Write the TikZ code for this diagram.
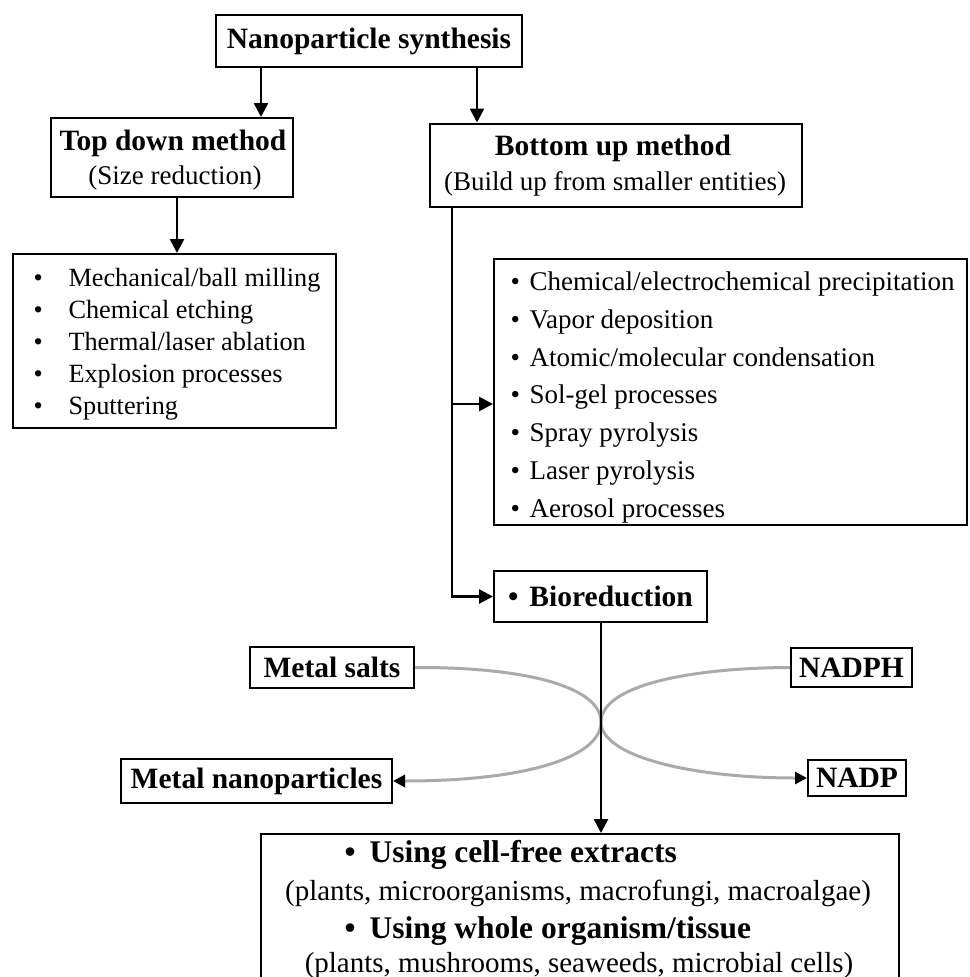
\documentclass[tikz,border=0pt]{standalone}
\usepackage{fontspec}
\setmainfont{Liberation Serif}
\usetikzlibrary{arrows.meta}
\definecolor{flowgray}{RGB}{170,170,170}
\begin{document}
\begin{tikzpicture}[x=1pt,y=-1pt,
  box/.style={draw=black, line width=2pt, inner sep=0pt, rectangle},
  bl/.style={font=\fontsize{29.5}{34}\selectfont\bfseries},
  blb/.style={font=\fontsize{31.5}{36}\selectfont\bfseries},
  rg/.style={font=\fontsize{27}{32}\selectfont},
  rgs/.style={font=\fontsize{26.3}{32}\selectfont},
  rgb/.style={font=\fontsize{29}{34}\selectfont},
  arr/.style={line width=2.6pt, -{Triangle[length=14pt,width=14pt]}},
  flow/.style={line width=3pt, draw=flowgray, -{Triangle[length=12pt,width=12pt,color=black]}}
]
\useasboundingbox (0,0) rectangle (969,977);
\clip (0,0) rectangle (969,977);

% boxes
\node[box, minimum width=306pt, minimum height=52pt, bl] (ns) at (369,41) {Nanoparticle synthesis};

\node[box, minimum width=242pt, minimum height=79pt] (td) at (172,157.5) {};
\node[bl, anchor=base] (tdt1) at (173,150) {Top down method};
\node[rg, anchor=base] (tdt2) at (175,184) {(Size reduction)};

\node[box, minimum width=372pt, minimum height=83pt] (bu) at (616,165) {};
\node[bl, anchor=base] (but1) at (613,155) {Bottom up method};
\node[rg, anchor=base] (but2) at (615,190) {(Build up from smaller entities)};

\node[box, minimum width=323pt, minimum height=174pt] (tdl) at (174.5,341) {};
\node[rgs, anchor=base west] (l1) at (30,286) {\makebox[35pt][l]{\textbullet}Mechanical/ball milling};
\node[rgs, anchor=base west] (l2) at (30,318) {\makebox[35pt][l]{\textbullet}Chemical etching};
\node[rgs, anchor=base west] (l3) at (30,350) {\makebox[35pt][l]{\textbullet}Thermal/laser ablation};
\node[rgs, anchor=base west] (l4) at (30,382) {\makebox[35pt][l]{\textbullet}Explosion processes};
\node[rgs, anchor=base west] (l5) at (30,414) {\makebox[35pt][l]{\textbullet}Sputtering};

\node[box, minimum width=473pt, minimum height=266pt] (bul) at (730.5,392) {};
\node[rg, anchor=base west] (r1) at (507,290) {\makebox[19pt][l]{\textbullet}Chemical/electrochemical precipitation};
\node[rg, anchor=base west] (r2) at (507,328) {\makebox[19pt][l]{\textbullet}Vapor deposition};
\node[rg, anchor=base west] (r3) at (507,366) {\makebox[19pt][l]{\textbullet}Atomic/molecular condensation};
\node[rg, anchor=base west] (r4) at (507,403) {\makebox[19pt][l]{\textbullet}Sol-gel processes};
\node[rg, anchor=base west] (r5) at (507,441) {\makebox[19pt][l]{\textbullet}Spray pyrolysis};
\node[rg, anchor=base west] (r6) at (507,479) {\makebox[19pt][l]{\textbullet}Laser pyrolysis};
\node[rg, anchor=base west] (r7) at (507,517) {\makebox[19pt][l]{\textbullet}Aerosol processes};

\node[box, minimum width=213pt, minimum height=51pt, bl] (bio) at (600.5,596.5) {\textbullet\hspace{11pt}Bioreduction};

\node[box, minimum width=164pt, minimum height=41pt, bl] (salts) at (332,667.5) {Metal salts};
\node[box, minimum width=121pt, minimum height=39pt, bl] (nadph) at (851.5,667.5) {NADPH};
\node[box, minimum width=271pt, minimum height=44pt, bl] (mnp) at (256.5,781) {Metal nanoparticles};
\node[box, minimum width=98pt, minimum height=36pt, bl] (nadp) at (857,778) {NADP};

\node[box, minimum width=638pt, minimum height=200pt] (bb) at (580,934) {};
\node[blb, anchor=base west] (b1) at (341,862) {\textbullet\hspace{14pt}Using cell-free extracts};
\node[rgb, anchor=base] (b2) at (578,900) {(plants, microorganisms, macrofungi, macroalgae)};
\node[blb, anchor=base west] (b3) at (341,938) {\textbullet\hspace{14pt}Using whole organism/tissue};
\node[rgb, anchor=base] (b4) at (579,972) {(plants, mushrooms, seaweeds, microbial cells)};

% helper coordinates
\coordinate (xL) at (261,0);
\coordinate (xR) at (477,0);
\coordinate (xT) at (177,0);
\coordinate (xB) at (452,0);
\coordinate (xBio) at (601,0);
\coordinate (br) at (452,404);
\coordinate (cx) at (601,722);

% gray reaction curves
\draw[flow] (salts.east) .. controls (530,667) and (601,688) .. (cx)
                         .. controls (601,756) and (530,781) .. (mnp.east);
\draw[flow] (nadph.west) .. controls (680,668) and (601,688) .. (cx)
                         .. controls (601,756) and (690,778) .. (nadp.west);

% connectors
\draw[arr] (ns.south -| xL) -- (td.north -| xL);
\draw[arr] (ns.south -| xR) -- (bu.north -| xR);
\draw[arr] (td.south -| xT) -- (tdl.north -| xT);
\draw[arr] (bu.south -| xB) |- (bio.west);
\draw[arr] (br) -- (bul.west |- br);
\draw[arr] (bio.south -| xBio) -- (bb.north -| xBio);
\end{tikzpicture}
\end{document}
